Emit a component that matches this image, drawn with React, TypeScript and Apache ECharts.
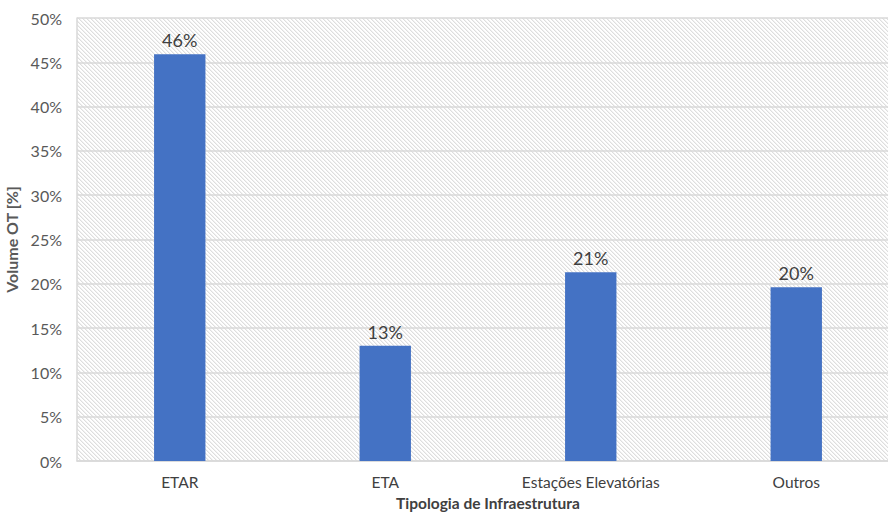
import React, { useEffect, useRef } from "react";
import * as echarts from "echarts";

const categories = ["ETAR", "ETA", "Estações Elevatórias", "Outros"];
const values = [45.9, 13.0, 21.3, 19.6];
const yTicks = [0, 5, 10, 15, 20, 25, 30, 35, 40, 45, 50];

function makeHatch(): string {
  const c = document.createElement("canvas");
  c.width = 4;
  c.height = 4;
  const ctx = c.getContext("2d")!;
  ctx.fillStyle = "#ffffff";
  ctx.fillRect(0, 0, 4, 4);
  for (let i = 0; i < 4; i++) {
    ctx.fillStyle = "#dedede";
    ctx.fillRect(i, i, 1, 1);
    ctx.fillStyle = "#f1f1f1";
    ctx.fillRect((i + 1) % 4, i, 1, 1);
  }
  return c.toDataURL();
}

export default function App() {
  const ref = useRef<HTMLDivElement>(null);
  useEffect(() => {
    const chart = echarts.init(ref.current!, undefined, { renderer: "svg" });
    chart.setOption({
      animation: false,
      textStyle: { fontFamily: "Lato, 'Open Sans', sans-serif" },
      grid: {
        left: 77,
        top: 18,
        right: -11,
        bottom: 52,
        outerBoundsMode: "none",
        containLabel: false,
        show: true,
        borderWidth: 0,
        backgroundColor: { image: makeHatch(), repeat: "repeat" },
      },
      xAxis: {
        type: "category",
        data: categories,
        name: "Tipologia de Infraestrutura",
        nameLocation: "middle",
        nameGap: 34,
        nameTextStyle: { fontSize: 15.5, fontWeight: "bold", color: "#404040" },
        axisLine: { show: true, lineStyle: { color: "#d9d9d9", width: 1.5 } },
        axisTick: { show: false },
        axisLabel: { fontSize: 15.5, color: "#404040", margin: 13 },
      },
      yAxis: {
        type: "value",
        min: 0,
        max: 50,
        interval: 5,
        name: "Volume OT [%]",
        nameLocation: "middle",
        nameGap: 46,
        nameTextStyle: { fontSize: 16, fontWeight: "bold", color: "#595959" },
        axisLine: { show: true, lineStyle: { color: "#d9d9d9", width: 1.5 } },
        axisTick: { show: false },
        splitLine: { show: true, lineStyle: { color: "#d9d9d9", width: 1.5 } },
        axisLabel: {
          fontSize: 16,
          color: "#595959",
          margin: 15,
          formatter: (v: number) => (yTicks.includes(v) ? v + "%" : ""),
        },
      },
      series: [
        {
          type: "bar",
          data: values,
          barWidth: "25%",
          itemStyle: { color: "#4472c4" },
          label: {
            show: true,
            position: "top",
            distance: 5,
            fontSize: 18,
            color: "#404040",
            formatter: (p: any) => Math.round(p.value) + "%",
          },
        },
      ],
    });
    return () => chart.dispose();
  }, []);
  return (
    <div
      ref={ref}
      style={{ position: "fixed", left: 0, top: 0, width: 888, height: 513, background: "#fff" }}
    />
  );
}
